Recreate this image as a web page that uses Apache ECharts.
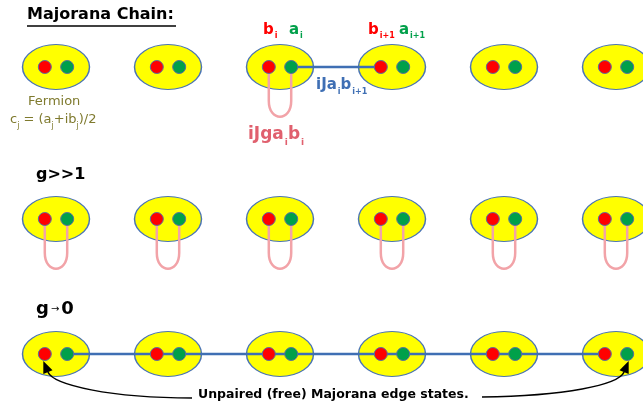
<!DOCTYPE html>
<html>
<head>
<meta charset="utf-8">
<script src="https://cdn.jsdelivr.net/npm/echarts@6/dist/echarts.min.js"></script>
<style>
  html, body { margin: 0; padding: 0; background: #fff; }
  #chart { width: 643px; height: 408px; }
</style>
</head>
<body>
<div id="chart"></div>
<script>
// sites along the chain (x, in site units) and the three rows (y)
const sites = [0, 1, 2, 3, 4, 5];
const rowY = [67, 219, 354];
const rowNames = ["Majorana Chain:", "g>>1", "g\u21920"];
// b_i sits left of the site centre, a_i right of it
const majoranaOffset = 0.1;
// on-site pairing loops (i J g a_i b_i) per row
const onsiteBonds = [[2], [0, 1, 2, 3, 4, 5], []];
// inter-site bonds a_i -- b_j per row
const interBonds = [[[2, 3]], [], [[0, 5]]];
// unpaired edge modes: [site, side] (-1 = b, +1 = a)
const edgeModes = [[0, -1], [5, 1]];

const FONT = "DejaVu Sans";
const BLUE = "#3f6fb4";
const PINK = "#f2a3a8";

const chart = echarts.init(document.getElementById("chart"));

const ellipseData = [];
const bData = [];
const aData = [];
rowY.forEach((y) => {
  sites.forEach((s) => {
    ellipseData.push([s, y]);
    bData.push([s - majoranaOffset, y]);
    aData.push([s + majoranaOffset, y]);
  });
});

const loopData = [];
onsiteBonds.forEach((list, r) => list.forEach((s) => loopData.push([s, rowY[r]])));

const bondSeries = [];
interBonds.forEach((list, r) => {
  list.forEach(([from, to]) => {
    bondSeries.push({
      type: "line",
      z: 3,
      symbol: "none",
      silent: true,
      lineStyle: { color: BLUE, width: 2.5 },
      data: [[from + majoranaOffset, rowY[r]], [to - majoranaOffset, rowY[r]]],
    });
  });
});

const edgeData = edgeModes.map(([s, side]) => [s + side * majoranaOffset, rowY[2], side]);

// rich-text label with subscripts: parts alternate main / subscript
function subLabel(parts, size, color, subDrop) {
  let text = "";
  parts.forEach((p, i) => { text += (i % 2 === 0 ? "{m|" : "{s|") + p + "}"; });
  return {
    text,
    rich: {
      m: { font: `bold ${size}px "${FONT}"`, fill: color, lineHeight: size + 2, verticalAlign: "top" },
      s: { font: `bold ${Math.round(size * 0.55)}px "${FONT}"`, fill: color, lineHeight: 10, padding: [subDrop, 0, 0, 1], verticalAlign: "top" },
    },
  };
}

const option = {
  animation: false,
  grid: { left: 0, right: 0, top: 0, bottom: 0 },
  xAxis: { type: "value", min: -0.5, max: 5.241, show: false },
  yAxis: { type: "value", min: 0, max: 408, inverse: true, show: false },
  series: [
    {
      type: "scatter",
      z: 1,
      silent: true,
      symbol: "circle",
      symbolSize: [67, 45],
      itemStyle: { color: "#ffff00", borderColor: "#4a74b4", borderWidth: 1.2, opacity: 1 },
      data: ellipseData,
    },
    {
      type: "custom",
      z: 2,
      silent: true,
      data: loopData,
      renderItem: (params, api) => {
        const p = api.coord([api.value(0) - majoranaOffset, api.value(1)]);
        const q = api.coord([api.value(0) + majoranaOffset, api.value(1)]);
        const path = `M${p[0]},${p[1]} L${p[0]},${p[1] + 34} C${p[0]},${p[1] + 55} ${q[0]},${q[1] + 55} ${q[0]},${q[1] + 34} L${q[0]},${q[1]}`;
        return {
          type: "path",
          shape: { pathData: path },
          style: { stroke: PINK, lineWidth: 2.5, fill: null },
        };
      },
    },
    ...bondSeries,
    {
      type: "scatter",
      z: 4,
      silent: true,
      symbolSize: 13,
      itemStyle: { color: "#ff0000", borderColor: "#5a6ea0", borderWidth: 1, opacity: 1 },
      data: bData,
    },
    {
      type: "scatter",
      z: 4,
      silent: true,
      symbolSize: 13,
      itemStyle: { color: "#00a04a", borderColor: "#5a6ea0", borderWidth: 1, opacity: 1 },
      data: aData,
    },
    {
      // arrows from the caption to the unpaired end modes
      type: "custom",
      z: 5,
      silent: true,
      data: edgeData,
      renderItem: (params, api) => {
        const side = api.value(2);
        const d = api.coord([api.value(0), api.value(1)]);
        const T = [d[0] + side * 1.5, d[1] + 7];
        const S = side < 0 ? [192, 398] : [482, 397];
        const C1 = side < 0 ? [110, 398] : [565, 396];
        const C2 = [T[0] - side * 10, T[1] + 24];
        const dx = T[0] - C2[0], dy = T[1] - C2[1];
        const len = Math.hypot(dx, dy);
        const ux = dx / len, uy = dy / len;
        const B = [T[0] - ux * 12, T[1] - uy * 12];
        const nx = -uy, ny = ux;
        return {
          type: "group",
          children: [
            {
              type: "bezierCurve",
              shape: { x1: S[0], y1: S[1], cpx1: C1[0], cpy1: C1[1], cpx2: C2[0], cpy2: C2[1], x2: B[0], y2: B[1] },
              style: { stroke: "#000", lineWidth: 1.5, fill: null },
            },
            {
              type: "polygon",
              shape: { points: [T, [B[0] + nx * 5, B[1] + ny * 5], [B[0] - nx * 5, B[1] - ny * 5]] },
              style: { fill: "#000" },
            },
          ],
        };
      },
    },
  ],
  graphic: [
    { type: "text", left: 27, top: 7, style: { text: rowNames[0], font: `bold 16px "${FONT}"`, fill: "#000" } },
    { type: "line", shape: { x1: 27, y1: 26, x2: 176, y2: 26 }, style: { stroke: "#000", lineWidth: 1.5 } },
    { type: "text", left: 36, top: 167, style: { text: rowNames[1], font: `bold 16px "${FONT}"`, fill: "#000" } },
    {
      type: "text", left: 36, top: 300,
      style: {
        text: "{g|g}{ar|\u2192}{g|0}",
        rich: {
          g: { font: `bold 18px "${FONT}"`, fill: "#000" },
          ar: { font: `10px "${FONT}"`, fill: "#000", padding: [0, 2, 0, 2] },
        },
      },
    },
    {
      type: "text", left: 28, top: 95,
      style: { text: "Fermion", font: `13px "${FONT}"`, fill: "#7f7a2e" },
    },
    {
      type: "text", left: 10, top: 113,
      style: {
        text: "{m|c}{s|j}{m| = (a}{s|j}{m|+ib}{s|j}{m|)/2}",
        rich: {
          m: { font: `13px "${FONT}"`, fill: "#7f7a2e", lineHeight: 16, verticalAlign: "top" },
          s: { font: `8px "${FONT}"`, fill: "#7f7a2e", lineHeight: 10, padding: [9, 0, 0, 0], verticalAlign: "top" },
        },
      },
    },
    { type: "text", left: 263, top: 23, style: subLabel(["b", "i"], 15, "#ff0000", 9) },
    { type: "text", left: 289, top: 23, style: subLabel(["a", "i"], 15, "#00a04a", 9) },
    { type: "text", left: 368, top: 23, style: subLabel(["b", "i+1"], 15, "#ff0000", 9) },
    { type: "text", left: 399, top: 23, style: subLabel(["a", "i+1"], 15, "#00a04a", 9) },
    { type: "text", left: 316, top: 78, style: subLabel(["iJa", "i", "b", "i+1"], 15, BLUE, 10) },
    { type: "text", left: 248, top: 126, style: subLabel(["iJga", "i", "b", "i"], 17, "#e0606e", 12) },
    {
      type: "text", left: 198, top: 388,
      style: { text: "Unpaired (free) Majorana edge states.", font: `bold 12.5px "${FONT}"`, fill: "#000" },
    },
  ],
};

chart.setOption(option);
window.addEventListener("resize", () => chart.resize());
</script>
</body>
</html>
